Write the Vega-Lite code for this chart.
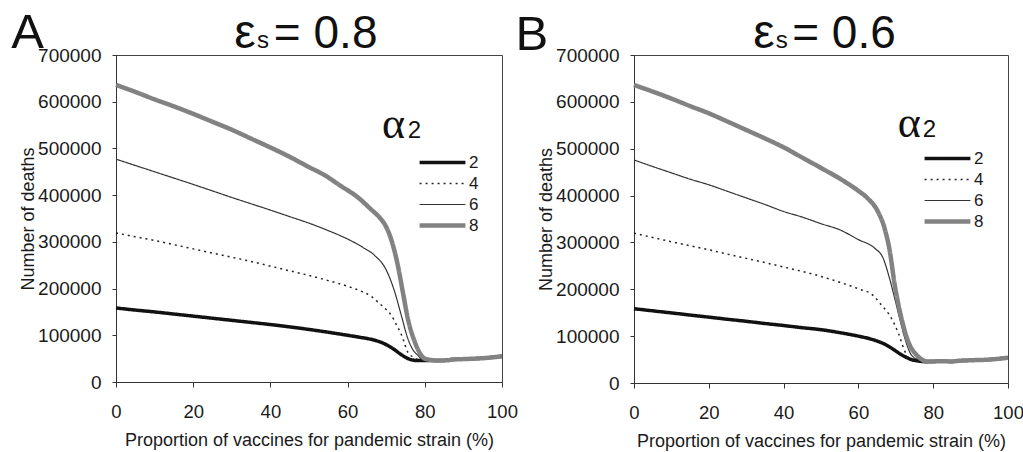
{
  "$schema": "https://vega.github.io/schema/vega-lite/v6.json",
  "background": "white",
  "padding": {"left": 10, "top": 8, "right": 2, "bottom": 2},
  "spacing": -3,
  "resolve": {"legend": {"color": "independent", "strokeWidth": "independent", "strokeDash": "independent"}},
  "config": {
    "font": "Liberation Sans",
    "view": {"stroke": "#444444", "strokeWidth": 1},
    "axis": {"domainColor": "#333333", "tickColor": "#333333", "labelColor": "#1a1a1a", "titleColor": "#1a1a1a", "grid": false, "labelFont": "Liberation Sans", "titleFont": "Liberation Sans", "titleFontWeight": "normal"},
    "legend": {"padding": 0}
  },
  "datasets": {
    "A": [
      {"pct":0,"deaths":158500,"alpha2":"2"},{"pct":5,"deaths":154000,"alpha2":"2"},{"pct":10,"deaths":150000,"alpha2":"2"},{"pct":15,"deaths":145500,"alpha2":"2"},{"pct":20,"deaths":141000,"alpha2":"2"},{"pct":25,"deaths":136500,"alpha2":"2"},{"pct":30,"deaths":132000,"alpha2":"2"},{"pct":35,"deaths":127500,"alpha2":"2"},{"pct":40,"deaths":123000,"alpha2":"2"},{"pct":45,"deaths":118000,"alpha2":"2"},{"pct":50,"deaths":112500,"alpha2":"2"},{"pct":55,"deaths":106500,"alpha2":"2"},{"pct":60,"deaths":100000,"alpha2":"2"},{"pct":63,"deaths":96000,"alpha2":"2"},{"pct":66,"deaths":91500,"alpha2":"2"},{"pct":68,"deaths":87000,"alpha2":"2"},{"pct":70,"deaths":80000,"alpha2":"2"},{"pct":72,"deaths":70000,"alpha2":"2"},{"pct":74,"deaths":58000,"alpha2":"2"},{"pct":76,"deaths":49000,"alpha2":"2"},{"pct":78,"deaths":46000,"alpha2":"2"},{"pct":80,"deaths":46000,"alpha2":"2"},{"pct":83,"deaths":46000,"alpha2":"2"},{"pct":86,"deaths":46500,"alpha2":"2"},{"pct":87,"deaths":48000,"alpha2":"2"},{"pct":90,"deaths":49000,"alpha2":"2"},{"pct":95,"deaths":51000,"alpha2":"2"},{"pct":100,"deaths":55000,"alpha2":"2"},
      {"pct":0,"deaths":319000,"alpha2":"4"},{"pct":5,"deaths":311000,"alpha2":"4"},{"pct":10,"deaths":303000,"alpha2":"4"},{"pct":15,"deaths":294000,"alpha2":"4"},{"pct":20,"deaths":285000,"alpha2":"4"},{"pct":25,"deaths":276000,"alpha2":"4"},{"pct":30,"deaths":267000,"alpha2":"4"},{"pct":35,"deaths":258000,"alpha2":"4"},{"pct":40,"deaths":248000,"alpha2":"4"},{"pct":45,"deaths":238000,"alpha2":"4"},{"pct":50,"deaths":228000,"alpha2":"4"},{"pct":55,"deaths":217000,"alpha2":"4"},{"pct":60,"deaths":205000,"alpha2":"4"},{"pct":63,"deaths":196000,"alpha2":"4"},{"pct":66,"deaths":184000,"alpha2":"4"},{"pct":68,"deaths":170000,"alpha2":"4"},{"pct":70,"deaths":155000,"alpha2":"4"},{"pct":71.3,"deaths":143000,"alpha2":"4"},{"pct":72.5,"deaths":125000,"alpha2":"4"},{"pct":74,"deaths":100000,"alpha2":"4"},{"pct":75.6,"deaths":64000,"alpha2":"4"},{"pct":77.3,"deaths":52000,"alpha2":"4"},{"pct":78.5,"deaths":47500,"alpha2":"4"},{"pct":80,"deaths":46500,"alpha2":"4"},{"pct":83,"deaths":46000,"alpha2":"4"},{"pct":86,"deaths":46500,"alpha2":"4"},{"pct":87,"deaths":48000,"alpha2":"4"},{"pct":90,"deaths":49000,"alpha2":"4"},{"pct":95,"deaths":51000,"alpha2":"4"},{"pct":100,"deaths":55000,"alpha2":"4"},
      {"pct":0,"deaths":477000,"alpha2":"6"},{"pct":5,"deaths":463500,"alpha2":"6"},{"pct":10,"deaths":450000,"alpha2":"6"},{"pct":15,"deaths":436500,"alpha2":"6"},{"pct":20,"deaths":423000,"alpha2":"6"},{"pct":25,"deaths":409000,"alpha2":"6"},{"pct":30,"deaths":395000,"alpha2":"6"},{"pct":35,"deaths":381500,"alpha2":"6"},{"pct":40,"deaths":368000,"alpha2":"6"},{"pct":45,"deaths":354000,"alpha2":"6"},{"pct":50,"deaths":340000,"alpha2":"6"},{"pct":55,"deaths":324000,"alpha2":"6"},{"pct":60,"deaths":306000,"alpha2":"6"},{"pct":64,"deaths":288000,"alpha2":"6"},{"pct":67,"deaths":271000,"alpha2":"6"},{"pct":70,"deaths":240000,"alpha2":"6"},{"pct":72.2,"deaths":193000,"alpha2":"6"},{"pct":73.9,"deaths":143000,"alpha2":"6"},{"pct":75.6,"deaths":93000,"alpha2":"6"},{"pct":77,"deaths":68000,"alpha2":"6"},{"pct":78.2,"deaths":57000,"alpha2":"6"},{"pct":79,"deaths":50000,"alpha2":"6"},{"pct":80,"deaths":47000,"alpha2":"6"},{"pct":83,"deaths":46000,"alpha2":"6"},{"pct":86,"deaths":46500,"alpha2":"6"},{"pct":87,"deaths":48000,"alpha2":"6"},{"pct":90,"deaths":49000,"alpha2":"6"},{"pct":95,"deaths":51000,"alpha2":"6"},{"pct":100,"deaths":55000,"alpha2":"6"},
      {"pct":0,"deaths":636000,"alpha2":"8"},{"pct":5,"deaths":621000,"alpha2":"8"},{"pct":10,"deaths":605000,"alpha2":"8"},{"pct":15,"deaths":590000,"alpha2":"8"},{"pct":20,"deaths":574000,"alpha2":"8"},{"pct":25,"deaths":557000,"alpha2":"8"},{"pct":30,"deaths":540000,"alpha2":"8"},{"pct":35,"deaths":521000,"alpha2":"8"},{"pct":40,"deaths":502000,"alpha2":"8"},{"pct":45,"deaths":482000,"alpha2":"8"},{"pct":50,"deaths":460000,"alpha2":"8"},{"pct":54,"deaths":443000,"alpha2":"8"},{"pct":58,"deaths":421000,"alpha2":"8"},{"pct":62.7,"deaths":395000,"alpha2":"8"},{"pct":66,"deaths":370000,"alpha2":"8"},{"pct":68.5,"deaths":350000,"alpha2":"8"},{"pct":70,"deaths":332000,"alpha2":"8"},{"pct":71.3,"deaths":305000,"alpha2":"8"},{"pct":73,"deaths":250000,"alpha2":"8"},{"pct":74.3,"deaths":193000,"alpha2":"8"},{"pct":75.6,"deaths":136000,"alpha2":"8"},{"pct":77.4,"deaths":86000,"alpha2":"8"},{"pct":79,"deaths":58000,"alpha2":"8"},{"pct":80,"deaths":50000,"alpha2":"8"},{"pct":81,"deaths":48000,"alpha2":"8"},{"pct":83,"deaths":46000,"alpha2":"8"},{"pct":86,"deaths":46500,"alpha2":"8"},{"pct":87,"deaths":48000,"alpha2":"8"},{"pct":90,"deaths":49000,"alpha2":"8"},{"pct":95,"deaths":51000,"alpha2":"8"},{"pct":100,"deaths":55000,"alpha2":"8"}
    ],
    "B": [
      {"pct":0,"deaths":158600,"alpha2":"2"},{"pct":5,"deaths":154000,"alpha2":"2"},{"pct":10,"deaths":149600,"alpha2":"2"},{"pct":15,"deaths":145000,"alpha2":"2"},{"pct":20,"deaths":140600,"alpha2":"2"},{"pct":25,"deaths":136000,"alpha2":"2"},{"pct":30,"deaths":131700,"alpha2":"2"},{"pct":35,"deaths":127000,"alpha2":"2"},{"pct":40,"deaths":122700,"alpha2":"2"},{"pct":45,"deaths":118000,"alpha2":"2"},{"pct":50,"deaths":113800,"alpha2":"2"},{"pct":55,"deaths":107500,"alpha2":"2"},{"pct":60,"deaths":100000,"alpha2":"2"},{"pct":63,"deaths":94500,"alpha2":"2"},{"pct":65.2,"deaths":89000,"alpha2":"2"},{"pct":67,"deaths":83000,"alpha2":"2"},{"pct":68.8,"deaths":74600,"alpha2":"2"},{"pct":71.5,"deaths":60500,"alpha2":"2"},{"pct":74.2,"deaths":50000,"alpha2":"2"},{"pct":76,"deaths":47000,"alpha2":"2"},{"pct":78,"deaths":45500,"alpha2":"2"},{"pct":80,"deaths":46000,"alpha2":"2"},{"pct":82,"deaths":46500,"alpha2":"2"},{"pct":85,"deaths":46000,"alpha2":"2"},{"pct":87,"deaths":47500,"alpha2":"2"},{"pct":90,"deaths":48500,"alpha2":"2"},{"pct":95,"deaths":50000,"alpha2":"2"},{"pct":100,"deaths":54000,"alpha2":"2"},
      {"pct":0,"deaths":319800,"alpha2":"4"},{"pct":5,"deaths":310500,"alpha2":"4"},{"pct":10,"deaths":301500,"alpha2":"4"},{"pct":15,"deaths":293000,"alpha2":"4"},{"pct":20,"deaths":284400,"alpha2":"4"},{"pct":25,"deaths":275000,"alpha2":"4"},{"pct":30,"deaths":266000,"alpha2":"4"},{"pct":35,"deaths":257000,"alpha2":"4"},{"pct":40,"deaths":247500,"alpha2":"4"},{"pct":45,"deaths":238000,"alpha2":"4"},{"pct":50,"deaths":227500,"alpha2":"4"},{"pct":55,"deaths":215000,"alpha2":"4"},{"pct":60,"deaths":201000,"alpha2":"4"},{"pct":63.7,"deaths":188500,"alpha2":"4"},{"pct":66.1,"deaths":167000,"alpha2":"4"},{"pct":68.8,"deaths":138600,"alpha2":"4"},{"pct":70.8,"deaths":104000,"alpha2":"4"},{"pct":72.4,"deaths":68000,"alpha2":"4"},{"pct":74.2,"deaths":48000,"alpha2":"4"},{"pct":76,"deaths":46000,"alpha2":"4"},{"pct":80,"deaths":46000,"alpha2":"4"},{"pct":82,"deaths":46500,"alpha2":"4"},{"pct":85,"deaths":46000,"alpha2":"4"},{"pct":87,"deaths":47500,"alpha2":"4"},{"pct":90,"deaths":48500,"alpha2":"4"},{"pct":95,"deaths":50000,"alpha2":"4"},{"pct":100,"deaths":54000,"alpha2":"4"},
      {"pct":0,"deaths":476000,"alpha2":"6"},{"pct":5,"deaths":462000,"alpha2":"6"},{"pct":10,"deaths":448500,"alpha2":"6"},{"pct":15,"deaths":435000,"alpha2":"6"},{"pct":20,"deaths":423000,"alpha2":"6"},{"pct":25,"deaths":409000,"alpha2":"6"},{"pct":30,"deaths":395000,"alpha2":"6"},{"pct":35,"deaths":381000,"alpha2":"6"},{"pct":40,"deaths":366000,"alpha2":"6"},{"pct":45,"deaths":354000,"alpha2":"6"},{"pct":50,"deaths":340000,"alpha2":"6"},{"pct":55,"deaths":327000,"alpha2":"6"},{"pct":60,"deaths":306000,"alpha2":"6"},{"pct":64.3,"deaths":288000,"alpha2":"6"},{"pct":66.6,"deaths":266500,"alpha2":"6"},{"pct":68.3,"deaths":224000,"alpha2":"6"},{"pct":69.7,"deaths":181000,"alpha2":"6"},{"pct":71,"deaths":138600,"alpha2":"6"},{"pct":72.4,"deaths":96000,"alpha2":"6"},{"pct":74.1,"deaths":60500,"alpha2":"6"},{"pct":75.9,"deaths":50000,"alpha2":"6"},{"pct":78,"deaths":46000,"alpha2":"6"},{"pct":80,"deaths":46000,"alpha2":"6"},{"pct":82,"deaths":46500,"alpha2":"6"},{"pct":85,"deaths":46000,"alpha2":"6"},{"pct":87,"deaths":47500,"alpha2":"6"},{"pct":90,"deaths":48500,"alpha2":"6"},{"pct":95,"deaths":50000,"alpha2":"6"},{"pct":100,"deaths":54000,"alpha2":"6"},
      {"pct":0,"deaths":636000,"alpha2":"8"},{"pct":5,"deaths":622000,"alpha2":"8"},{"pct":10,"deaths":607000,"alpha2":"8"},{"pct":15,"deaths":591000,"alpha2":"8"},{"pct":20,"deaths":575600,"alpha2":"8"},{"pct":25,"deaths":558000,"alpha2":"8"},{"pct":30,"deaths":540000,"alpha2":"8"},{"pct":35,"deaths":522000,"alpha2":"8"},{"pct":40,"deaths":503000,"alpha2":"8"},{"pct":45,"deaths":481000,"alpha2":"8"},{"pct":50,"deaths":459000,"alpha2":"8"},{"pct":56.3,"deaths":430000,"alpha2":"8"},{"pct":60,"deaths":410000,"alpha2":"8"},{"pct":62.5,"deaths":394000,"alpha2":"8"},{"pct":65.2,"deaths":366000,"alpha2":"8"},{"pct":67,"deaths":330000,"alpha2":"8"},{"pct":68.4,"deaths":281000,"alpha2":"8"},{"pct":69.7,"deaths":210000,"alpha2":"8"},{"pct":71.5,"deaths":138600,"alpha2":"8"},{"pct":73.3,"deaths":89000,"alpha2":"8"},{"pct":75.9,"deaths":57000,"alpha2":"8"},{"pct":78.6,"deaths":46000,"alpha2":"8"},{"pct":80,"deaths":46000,"alpha2":"8"},{"pct":82,"deaths":46500,"alpha2":"8"},{"pct":85,"deaths":46000,"alpha2":"8"},{"pct":87,"deaths":47500,"alpha2":"8"},{"pct":90,"deaths":48500,"alpha2":"8"},{"pct":95,"deaths":50000,"alpha2":"8"},{"pct":100,"deaths":54000,"alpha2":"8"}
    ]
  },
  "hconcat": [
    {
      "width": 386,
      "height": 327,
      "layer": [
        {
          "data": {"name": "A"},
          "mark": {"type": "line", "interpolate": "monotone", "strokeCap": "butt"},
          "encoding": {
            "x": {"field": "pct", "type": "quantitative", "scale": {"domain": [0, 100], "nice": false, "zero": false},
              "axis": {"title": "Proportion of vaccines for pandemic strain (%)", "values": [0,10,20,30,40,50,60,70,80,90,100], "labelExpr": "datum.value % 20 === 0 ? datum.label : ''", "labelFlush": false, "tickSize": 5, "labelPadding": 15, "titlePadding": 11, "labelFontSize": 18.5, "titleFontSize": 18}},
            "y": {"field": "deaths", "type": "quantitative", "scale": {"domain": [0, 700000], "nice": false},
              "axis": {"title": "Number of deaths", "values": [0,100000,200000,300000,400000,500000,600000,700000], "format": "d", "tickSize": 4, "labelPadding": 11, "titlePadding": 0, "labelFontSize": 19, "titleFontSize": 18}},
            "color": {"field": "alpha2", "type": "ordinal", "scale": {"type": "ordinal", "domain": ["2","4","6","8"], "range": ["#111111","#222222","#333333","#828282"]},
              "legend": {"title": null, "orient": "none", "legendX": 301, "legendY": 97, "symbolType": "stroke", "symbolSize": 2100, "clipHeight": 21, "rowPadding": 0, "labelFontSize": 17, "labelOffset": 1, "labelColor": "#1a1a1a"}},
            "strokeWidth": {"field": "alpha2", "type": "ordinal", "scale": {"type": "ordinal", "domain": ["2","4","6","8"], "range": [3.5,1.5,1.2,4.5]},
              "legend": {"title": null, "orient": "none", "legendX": 301, "legendY": 97, "symbolType": "stroke", "symbolSize": 2100, "clipHeight": 21, "rowPadding": 0, "labelFontSize": 17, "labelOffset": 1, "labelColor": "#1a1a1a"}},
            "strokeDash": {"field": "alpha2", "type": "ordinal", "scale": {"type": "ordinal", "domain": ["2","4","6","8"], "range": [[1,0],[2,4],[1,0],[1,0]]},
              "legend": {"title": null, "orient": "none", "legendX": 301, "legendY": 97, "symbolType": "stroke", "symbolSize": 2100, "clipHeight": 21, "rowPadding": 0, "labelFontSize": 17, "labelOffset": 1, "labelColor": "#1a1a1a"}}
          }
        },
        {"data": {"values": [{}]}, "mark": {"type": "text", "text": "A", "fontSize": 49, "align": "center", "baseline": "alphabetic", "color": "#111111"}, "encoding": {"x": {"datum": -22.9}, "y": {"datum": 714100}}},
        {"data": {"values": [{}]}, "mark": {"type": "text", "text": "ε", "fontSize": 48, "align": "right", "baseline": "alphabetic", "color": "#111111"}, "encoding": {"x": {"datum": 36.2}, "y": {"datum": 714100}}},
        {"data": {"values": [{}]}, "mark": {"type": "text", "text": "s", "fontSize": 24, "align": "left", "baseline": "alphabetic", "color": "#111111"}, "encoding": {"x": {"datum": 36.5}, "y": {"datum": 714100}}},
        {"data": {"values": [{}]}, "mark": {"type": "text", "text": "= 0.8", "fontSize": 46, "align": "left", "baseline": "alphabetic", "color": "#111111"}, "encoding": {"x": {"datum": 40.9}, "y": {"datum": 714100}}},
        {"data": {"values": [{}]}, "mark": {"type": "text", "text": "α", "font": "Liberation Serif", "fontSize": 44, "align": "center", "baseline": "alphabetic", "color": "#111111"}, "encoding": {"x": {"datum": 71.9}, "y": {"datum": 522800}}},
        {"data": {"values": [{}]}, "mark": {"type": "text", "text": "2", "fontSize": 24, "align": "left", "baseline": "alphabetic", "color": "#111111"}, "encoding": {"x": {"datum": 75.6}, "y": {"datum": 522800}}}
      ]
    },
    {
      "width": 374,
      "height": 328,
      "layer": [
        {
          "data": {"name": "B"},
          "mark": {"type": "line", "interpolate": "monotone", "strokeCap": "butt"},
          "encoding": {
            "x": {"field": "pct", "type": "quantitative", "scale": {"domain": [0, 100], "nice": false, "zero": false},
              "axis": {"title": "Proportion of vaccines for pandemic strain (%)", "values": [0,10,20,30,40,50,60,70,80,90,100], "labelExpr": "datum.value % 20 === 0 ? datum.label : ''", "labelFlush": false, "tickSize": 5, "labelPadding": 15, "titlePadding": 11, "labelFontSize": 18.5, "titleFontSize": 18}},
            "y": {"field": "deaths", "type": "quantitative", "scale": {"domain": [0, 700000], "nice": false},
              "axis": {"title": "Number of deaths", "values": [0,100000,200000,300000,400000,500000,600000,700000], "format": "d", "tickSize": 4, "labelPadding": 11, "titlePadding": 0, "labelFontSize": 19, "titleFontSize": 18}},
            "color": {"field": "alpha2", "type": "ordinal", "scale": {"type": "ordinal", "domain": ["2","4","6","8"], "range": ["#111111","#222222","#333333","#828282"]},
              "legend": {"title": null, "orient": "none", "legendX": 288, "legendY": 93, "symbolType": "stroke", "symbolSize": 2100, "clipHeight": 21, "rowPadding": 0, "labelFontSize": 17, "labelOffset": 1, "labelColor": "#1a1a1a"}},
            "strokeWidth": {"field": "alpha2", "type": "ordinal", "scale": {"type": "ordinal", "domain": ["2","4","6","8"], "range": [3.5,1.5,1.2,4.5]},
              "legend": {"title": null, "orient": "none", "legendX": 288, "legendY": 93, "symbolType": "stroke", "symbolSize": 2100, "clipHeight": 21, "rowPadding": 0, "labelFontSize": 17, "labelOffset": 1, "labelColor": "#1a1a1a"}},
            "strokeDash": {"field": "alpha2", "type": "ordinal", "scale": {"type": "ordinal", "domain": ["2","4","6","8"], "range": [[1,0],[2,4],[1,0],[1,0]]},
              "legend": {"title": null, "orient": "none", "legendX": 288, "legendY": 93, "symbolType": "stroke", "symbolSize": 2100, "clipHeight": 21, "rowPadding": 0, "labelFontSize": 17, "labelOffset": 1, "labelColor": "#1a1a1a"}}
          }
        },
        {"data": {"values": [{}]}, "mark": {"type": "text", "text": "B", "fontSize": 49, "align": "center", "baseline": "alphabetic", "color": "#111111"}, "encoding": {"x": {"datum": -27.3}, "y": {"datum": 711000}}},
        {"data": {"values": [{}]}, "mark": {"type": "text", "text": "ε", "fontSize": 48, "align": "right", "baseline": "alphabetic", "color": "#111111"}, "encoding": {"x": {"datum": 37.6}, "y": {"datum": 714200}}},
        {"data": {"values": [{}]}, "mark": {"type": "text", "text": "s", "fontSize": 24, "align": "left", "baseline": "alphabetic", "color": "#111111"}, "encoding": {"x": {"datum": 37.9}, "y": {"datum": 714200}}},
        {"data": {"values": [{}]}, "mark": {"type": "text", "text": "= 0.6", "fontSize": 46, "align": "left", "baseline": "alphabetic", "color": "#111111"}, "encoding": {"x": {"datum": 42.3}, "y": {"datum": 714200}}},
        {"data": {"values": [{}]}, "mark": {"type": "text", "text": "α", "font": "Liberation Serif", "fontSize": 44, "align": "center", "baseline": "alphabetic", "color": "#111111"}, "encoding": {"x": {"datum": 73.6}, "y": {"datum": 526000}}},
        {"data": {"values": [{}]}, "mark": {"type": "text", "text": "2", "fontSize": 24, "align": "left", "baseline": "alphabetic", "color": "#111111"}, "encoding": {"x": {"datum": 77.2}, "y": {"datum": 526000}}}
      ]
    }
  ]
}
